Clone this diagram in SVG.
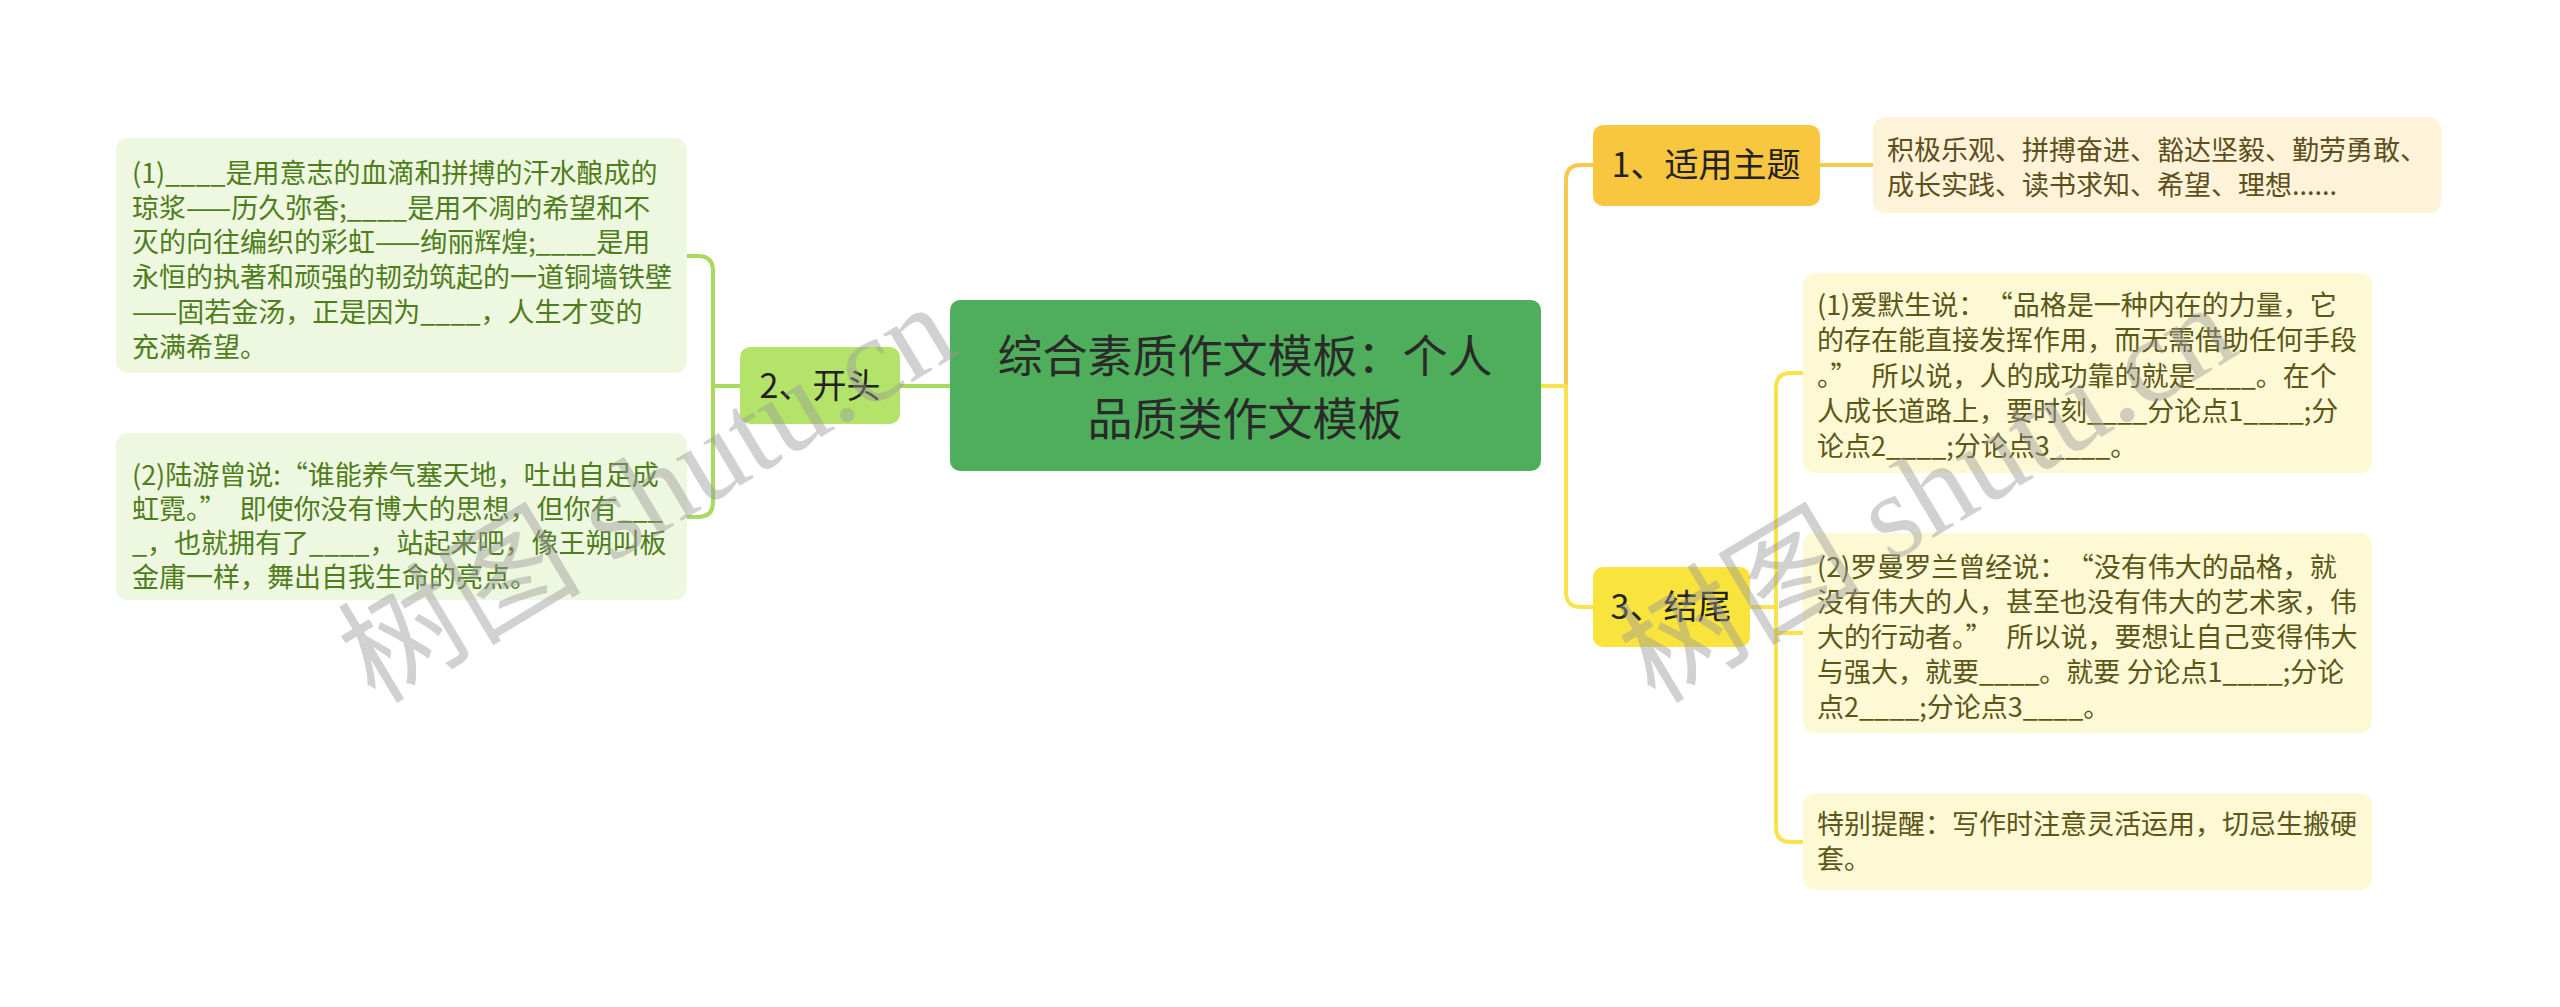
<svg xmlns="http://www.w3.org/2000/svg" width="2560" height="1007" viewBox="0 0 2560 1007">
<style>
.t{font-family:"Noto Sans CJK SC","Noto Sans",sans-serif}
.box{font-size:27px}
.lg{fill:#eef8e0}
.lgt{fill:#4f7d1b}
.yl{fill:#fdf9d4}
.ylt{fill:#5c5618}
.th{fill:#fdf3d9}
.tht{fill:#5e4e1c}
.node{font-size:34px;fill:#222;text-anchor:middle}
.con{fill:none;stroke-width:4;stroke-linecap:round;stroke-linejoin:round}
.wm{font-family:"Liberation Serif","Noto Sans CJK SC",serif;font-size:122px;fill:#9a9a9a;fill-opacity:0.45}
</style>
<rect width="2560" height="1007" fill="#ffffff"/>
<g id="connectors">
<path class="con" stroke="#f6c94c" d="M1540,386 H1566 V180 Q1566,165 1581,165 H1593"/>
<path class="con" stroke="#f9e34c" d="M1540,386 H1566 V592 Q1566,607 1581,607 H1593"/>
<path class="con" stroke="#f6c94c" d="M1820,165 H1873"/>
<path class="con" stroke="#f9e34c" d="M1750,607 H1776"/>
<path class="con" stroke="#f9e34c" d="M1803,373 H1791 Q1776,373 1776,388 V827 Q1776,842 1791,842 H1803"/>
<path class="con" stroke="#f9e34c" d="M1776,633 H1803"/>
<path class="con" stroke="#a8da5e" d="M950,386 H900"/>
<path class="con" stroke="#a8da5e" d="M740,386 H713"/>
<path class="con" stroke="#a8da5e" d="M687,256 H698 Q713,256 713,271 V502 Q713,517 698,517 H687"/>
</g>
<g id="center">
<rect x="950" y="300" width="591" height="171" rx="10" fill="#4fae5b"/>
<text class="t" font-size="45" fill="#2a2a2a" text-anchor="middle"><tspan x="1245" y="373">综合素质作文模板：个人</tspan><tspan x="1245" y="436">品质类作文模板</tspan></text>
</g>
<g id="n2">
<rect x="740" y="347" width="160" height="77" rx="10" fill="#b4e36a"/>
<text class="t node" x="820" y="398">2、开头</text>
</g>
<g id="n2a">
<rect x="116" y="138" width="571" height="235" rx="12" class="lg"/>
<text class="t box lgt"><tspan x="132" y="183">(1)____是用意志的血滴和拼搏的汗水酿成的</tspan><tspan x="132" y="218">琼浆——历久弥香;____是用不凋的希望和不</tspan><tspan x="132" y="252">灭的向往编织的彩虹——绚丽辉煌;____是用</tspan><tspan x="132" y="287">永恒的执著和顽强的韧劲筑起的一道铜墙铁壁</tspan><tspan x="132" y="322">——固若金汤，正是因为____，人生才变的</tspan><tspan x="132" y="357">充满希望。</tspan></text>
</g>
<g id="n2b">
<rect x="116" y="433" width="571" height="167" rx="12" class="lg"/>
<text class="t box lgt"><tspan x="132" y="485">(2)陆游曾说:“谁能养气塞天地，吐出自足成</tspan><tspan x="132" y="519">虹霓。”<tspan dx="13">即使你没有博大的思想，但你有___</tspan></tspan><tspan x="132" y="553">_，也就拥有了____，站起来吧，像王朔叫板</tspan><tspan x="132" y="587">金庸一样，舞出自我生命的亮点。</tspan></text>
</g>
<g id="n1">
<rect x="1593" y="125" width="227" height="81" rx="10" fill="#f9c63f"/>
<text class="t node" x="1706" y="177">1、适用主题</text>
</g>
<g id="n1a">
<rect x="1873" y="117" width="568" height="96" rx="12" class="th"/>
<text class="t box tht"><tspan x="1887" y="160">积极乐观、拼搏奋进、豁达坚毅、勤劳勇敢、</tspan><tspan x="1887" y="195">成长实践、读书求知、希望、理想......</tspan></text>
</g>
<g id="n3">
<rect x="1593" y="567" width="157" height="80" rx="10" fill="#f9e43d"/>
<text class="t node" x="1671" y="619">3、结尾</text>
</g>
<g id="n3a">
<rect x="1803" y="273" width="569" height="200" rx="12" class="yl"/>
<text class="t box ylt"><tspan x="1817" y="315">(1)爱默生说：<tspan dx="14">“品格是一种内在的力量，它</tspan></tspan><tspan x="1817" y="350">的存在能直接发挥作用，而无需借助任何手段</tspan><tspan x="1817" y="386">。”<tspan dx="14">所以说，人的成功靠的就是____。在个</tspan></tspan><tspan x="1817" y="421">人成长道路上，要时刻____分论点1____;分</tspan><tspan x="1817" y="456">论点2____;分论点3____。</tspan></text>
</g>
<g id="n3b">
<rect x="1803" y="533" width="569" height="200" rx="12" class="yl"/>
<text class="t box ylt"><tspan x="1817" y="577">(2)罗曼罗兰曾经说：<tspan dx="14">“没有伟大的品格，就</tspan></tspan><tspan x="1817" y="612">没有伟大的人，甚至也没有伟大的艺术家，伟</tspan><tspan x="1817" y="647">大的行动者。”<tspan dx="14">所以说，要想让自己变得伟大</tspan></tspan><tspan x="1817" y="682">与强大，就要____。就要 分论点1____;分论</tspan><tspan x="1817" y="717">点2____;分论点3____。</tspan></text>
</g>
<g id="n3c">
<rect x="1803" y="793" width="569" height="97" rx="12" class="yl"/>
<text class="t box ylt"><tspan x="1817" y="834">特别提醒：写作时注意灵活运用，切忌生搬硬</tspan><tspan x="1817" y="869">套。</tspan></text>
</g>
<g id="watermark">
<text class="wm" transform="translate(375,705) rotate(-31)">树图 shutu.cn</text>
<text class="wm" transform="translate(1655,705) rotate(-31)">树图 shutu.cn</text>
</g>
</svg>
